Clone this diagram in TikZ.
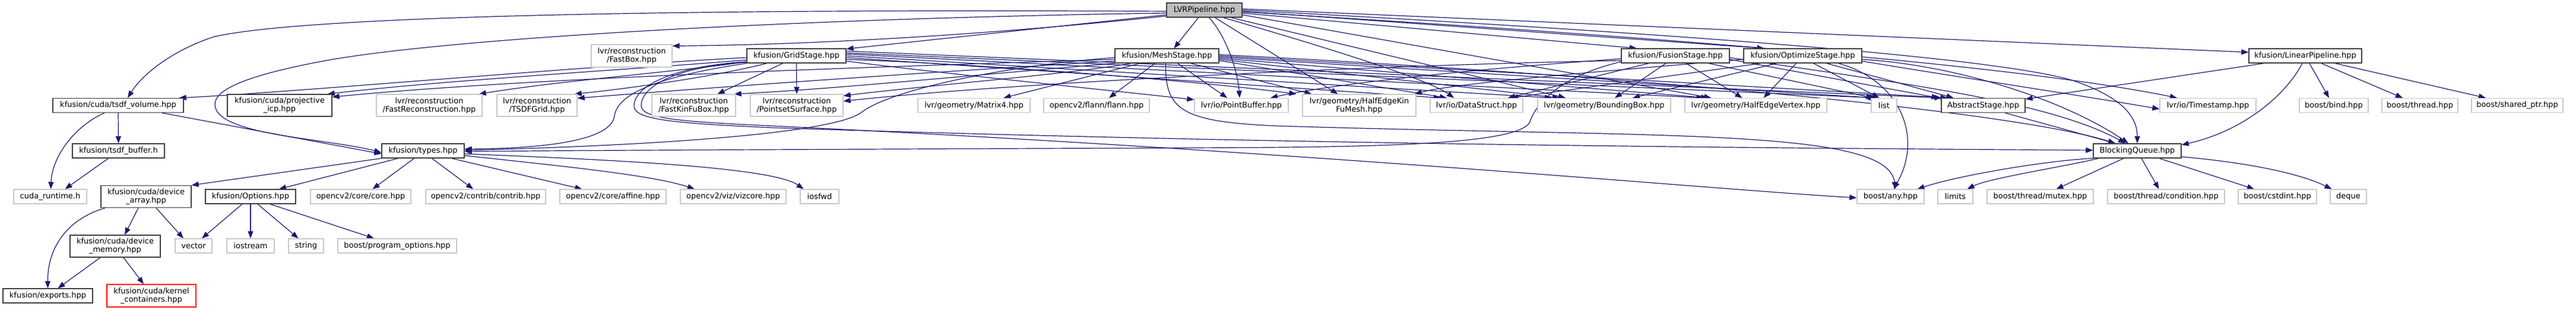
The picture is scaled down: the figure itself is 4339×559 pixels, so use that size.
\documentclass[tikz,border=0pt]{standalone}
\usepackage{fontspec}
\setmainfont{DejaVu Sans}
\usetikzlibrary{arrows.meta}
\definecolor{edgec}{HTML}{191970}
\definecolor{lightb}{HTML}{C8C8C8}
\definecolor{darkb}{HTML}{404040}
\definecolor{rootf}{HTML}{BFBFBF}
\pgfdeclarelayer{bg}
\pgfsetlayers{bg,main}
\begin{document}
\begin{tikzpicture}[x=1pt,y=-1pt,
  nd/.style={draw=darkb, line width=1.3pt, fill=white, inner sep=0pt, align=center,
    font=\fontsize{13}{14}\selectfont},
  ext/.style={nd, draw=lightb},
  trunc/.style={nd, draw=red},
  root/.style={nd, fill=rootf},
  sz/.style 2 args={minimum width=#1pt, minimum height=#2pt},
  e/.style={draw=edgec, line width=1.2pt, -{Triangle[length=12pt,width=9pt]}},
]
\useasboundingbox (0,0) rectangle (4339,559);
% row 0
\node[root, sz={127}{24}] (lvr) at (2028.5,17) {LVRPipeline.hpp};
% row 1
\node[ext, sz={136}{38}] (fastbox) at (1064,94) {lvr/reconstruction\\/FastBox.hpp};
\node[nd, sz={167}{24}] (grid) at (1341.5,94) {kfusion/GridStage.hpp};
\node[nd, sz={175}{24}] (mesh) at (1965.5,94) {kfusion/MeshStage.hpp};
\node[nd, sz={182}{24}] (fusion) at (2822,94) {kfusion/FusionStage.hpp};
\node[nd, sz={199}{24}] (opt) at (3036.5,94) {kfusion/OptimizeStage.hpp};
\node[nd, sz={190}{24}] (linp) at (3883,94) {kfusion/LinearPipeline.hpp};
% row 2
\node[nd, sz={220}{24}] (tsdf) at (199,177.5) {kfusion/cuda/tsdf\_volume.hpp};
\node[nd, sz={176}{37}] (proj) at (471,177.5) {kfusion/cuda/projective\\\_icp.hpp};
\node[ext, sz={178}{37}] (frecon) at (723,177.5) {lvr/reconstruction\\/FastReconstruction.hpp};
\node[ext, sz={135}{37}] (tgrid) at (904.5,177.5) {lvr/reconstruction\\/TSDFGrid.hpp};
\node[ext, sz={141}{37}] (fkfb) at (1168.5,177.5) {lvr/reconstruction\\/FastKinFuBox.hpp};
\node[ext, sz={156}{37}] (pss) at (1342,177.5) {lvr/reconstruction\\/PointsetSurface.hpp};
\node[ext, sz={189}{24}] (mat4) at (1640.5,177.5) {lvr/geometry/Matrix4.hpp};
\node[ext, sz={178}{24}] (flann) at (1847,177.5) {opencv2/flann/flann.hpp};
\node[ext, sz={158}{24}] (pbuf) at (2091,177.5) {lvr/io/PointBuffer.hpp};
\node[ext, sz={191}{37}] (hekfm) at (2289.5,177.5) {lvr/geometry/HalfEdgeKin\\FuMesh.hpp};
\node[ext, sz={156}{24}] (dstruct) at (2487,177.5) {lvr/io/DataStruct.hpp};
\node[ext, sz={224}{24}] (bbox) at (2702,177.5) {lvr/geometry/BoundingBox.hpp};
\node[ext, sz={239}{24}] (hev) at (2957.5,177.5) {lvr/geometry/HalfEdgeVertex.hpp};
\node[ext, sz={43}{24}] (list) at (3173.5,177.5) {list};
\node[nd, sz={141}{24}] (abst) at (3340.5,177.5) {AbstractStage.hpp};
\node[ext, sz={162}{24}] (tstamp) at (3719,177.5) {lvr/io/Timestamp.hpp};
\node[ext, sz={116}{24}] (bind) at (3931,177.5) {boost/bind.hpp};
\node[ext, sz={128}{24}] (bthread) at (4076,177.5) {boost/thread.hpp};
\node[ext, sz={154}{24}] (sptr) at (4240,177.5) {boost/shared\_ptr.hpp};
% row 3
\node[nd, sz={155}{24}] (tsdfbuf) at (199.5,254) {kfusion/tsdf\_buffer.h};
\node[nd, sz={139}{24}] (types) at (712.5,254) {kfusion/types.hpp};
\node[nd, sz={148}{24}] (bq) at (3600,254) {BlockingQueue.hpp};
% row 4
\node[ext, sz={123}{24}] (cudart) at (84.5,331) {cuda\_runtime.h};
\node[nd, sz={152}{37}] (darr) at (246,331) {kfusion/cuda/device\\\_array.hpp};
\node[nd, sz={152}{24}] (opts) at (422,331) {kfusion/Options.hpp};
\node[ext, sz={169}{24}] (core) at (607.5,331) {opencv2/core/core.hpp};
\node[ext, sz={202}{24}] (contrib) at (818,331) {opencv2/contrib/contrib.hpp};
\node[ext, sz={179}{24}] (affine) at (1032.5,331) {opencv2/core/affine.hpp};
\node[ext, sz={178}{24}] (viz) at (1235,331) {opencv2/viz/vizcore.hpp};
\node[ext, sz={65}{24}] (iosfwd) at (1380.5,331) {iosfwd};
\node[ext, sz={113}{24}] (any) at (3184.5,331) {boost/any.hpp};
\node[ext, sz={59}{24}] (limits) at (3293.5,331) {limits};
\node[ext, sz={179}{24}] (mutex) at (3436.5,331) {boost/thread/mutex.hpp};
\node[ext, sz={197}{24}] (cond) at (3648.5,331) {boost/thread/condition.hpp};
\node[ext, sz={132}{24}] (cstdint) at (3836,331) {boost/cstdint.hpp};
\node[ext, sz={61}{24}] (deque) at (3955.5,331) {deque};
% row 5
\node[nd, sz={152}{37}] (dmem) at (194,414.5) {kfusion/cuda/device\\\_memory.hpp};
\node[ext, sz={62}{24}] (vector) at (326,414) {vector};
\node[ext, sz={80}{24}] (iostream) at (422,414) {iostream};
\node[ext, sz={59}{24}] (string) at (515.5,414) {string};
\node[ext, sz={200}{24}] (progopt) at (669,414) {boost/program\_options.hpp};
% row 6
\node[nd, sz={151}{24}] (exports) at (80.5,498) {kfusion/exports.hpp};
\node[trunc, sz={150}{38}] (kcont) at (255,498) {kfusion/cuda/kernel\\\_containers.hpp};

\begin{pgfonlayer}{bg}
% ---- LVRPipeline
\draw[e] ([yshift=-2]lvr.west) .. controls (1200,15) and (520,25) .. (360,62) .. controls (290,85) and (240,125) .. ([xshift=16]tsdf.north);
\draw[e] ([yshift=-5]lvr.west) .. controls (1400,30) and (800,60) .. (560,100) .. controls (420,125) and (360,150) .. (362,177) .. controls (364,205) and (420,220) .. (500,232) .. controls (570,242) and (610,248) .. ([yshift=-3]types.west);
\draw[e] ([yshift=-10]lvr.west) .. controls (1700,55) and (1400,75) .. ([yshift=-3]fastbox.north east);
\draw[e] ([yshift=-8]lvr.west) -- ([yshift=-1]grid.north east);
\draw[e] ([xshift=-10]lvr.south) -- ([xshift=12]mesh.north);
\draw[e] ([xshift=8]lvr.south) .. controls (2065,60) and (2085,120) .. ([xshift=-3]pbuf.north);
\draw[e] ([xshift=18]lvr.south) -- ([xshift=-36]hekfm.north);
\draw[e] ([xshift=32]lvr.south) .. controls (2200,70) and (2400,130) .. ([xshift=-38]dstruct.north);
\draw[e] ([xshift=45]lvr.south) -- ([xshift=-65]bbox.north);
\draw[e] ([yshift=-8]lvr.east) -- ([xshift=-75]hev.north);
\draw[e] ([yshift=-5]lvr.east) -- ([xshift=-65]fusion.north);
\draw[e] ([yshift=-2]lvr.east) -- ([xshift=-65]opt.north);
\draw[e] ([yshift=2]lvr.east) -- ([yshift=6]linp.west);
\draw[e] (lvr.east) .. controls (2800,55) and (3350,95) .. (3490,135) .. controls (3580,165) and (3600,200) .. (bq.north);
\draw[e] ([yshift=-3]lvr.east) .. controls (2800,62) and (3400,110) .. ([xshift=-52]tstamp.north);
% ---- GridStage
\draw[e] ([yshift=-3]grid.west) .. controls (1000,110) and (500,155) .. ([xshift=-8]tsdf.north east);
\draw[e] ([yshift=-7]grid.west) .. controls (1050,118) and (750,135) .. ([xshift=-8]proj.north east);
\draw[e] ([yshift=-10]grid.west) .. controls (1150,120) and (950,135) .. ([xshift=-6]frecon.north east);
\draw[e] ([xshift=-50]grid.south) .. controls (1200,130) and (1050,150) .. ([xshift=-5]tgrid.north east);
\draw[e] ([xshift=-23]grid.south) -- ([xshift=40]fkfb.north);
\draw[e] (grid.south) -- (pss.north);
\draw[e] (grid.south west) .. controls (1100,130) and (1040,160) .. (1035,195) .. controls (1030,240) and (900,250) .. ([yshift=3]types.east);
\draw[e] ([yshift=-9]grid.east) .. controls (1600,125) and (1850,150) .. ([yshift=-3]pbuf.north west);
\draw[e] ([yshift=-6]grid.east) .. controls (1700,110) and (2050,140) .. ([xshift=-106]hekfm.north);
\draw[e] ([yshift=-3]grid.east) -- ([xshift=-60]dstruct.north);
\draw[e] (grid.east) -- ([xshift=-88]bbox.north);
\draw[e] ([yshift=3]grid.east) -- ([xshift=-88]hev.north);
\draw[e] ([yshift=5]grid.east) -- ([xshift=-12]list.north);
\draw[e] ([yshift=8]grid.east) -- ([xshift=-70]abst.north);
\draw[e] ([yshift=-10]grid.west) .. controls (1150,110) and (1070,140) .. (1068,177) .. controls (1066,200) and (1120,207) .. (1300,215) .. controls (2200,245) and (3100,250) .. ([yshift=1]bq.west);
\draw[e] ([yshift=-11]grid.west) .. controls (1140,112) and (1080,145) .. (1080,178) .. controls (1080,200) and (1150,205) .. (1300,212) .. controls (2200,255) and (2900,320) .. ([yshift=-2]any.west);
% ---- MeshStage
\draw[e] ([yshift=-6]mesh.west) .. controls (1500,112) and (900,130) .. ([yshift=-5]proj.north east);
\draw[e] ([yshift=-9]mesh.west) .. controls (1500,125) and (1100,155) .. ([yshift=-7]tgrid.north east);
\draw[e] (mesh.south west) .. controls (1600,130) and (1400,150) .. ([xshift=-3]fkfb.north east);
\draw[e] ([xshift=-60]mesh.south) .. controls (1800,125) and (1550,145) .. ([yshift=-3]pss.north east);
\draw[e] ([xshift=-45]mesh.south) -- ([xshift=50]mat4.north);
\draw[e] ([xshift=-20]mesh.south) -- ([xshift=21]flann.north);
\draw[e] ([xshift=18]mesh.south) -- ([xshift=-24]pbuf.north);
\draw[e] ([xshift=40]mesh.south) -- ([xshift=-80]hekfm.north);
\draw[e] ([yshift=-3]mesh.west) .. controls (1700,110) and (1500,150) .. (1450,190) .. controls (1400,225) and (1100,245) .. ([yshift=1]types.east);
\draw[e] ([xshift=-2]mesh.south) .. controls (1962,185) and (1990,205) .. (2150,212) .. controls (2800,232) and (3180,215) .. ([xshift=8]any.north);
\draw[e] ([yshift=-8]mesh.east) -- ([xshift=-50]dstruct.north);
\draw[e] ([yshift=-6]mesh.east) -- ([xshift=-75]bbox.north);
\draw[e] ([yshift=-4]mesh.east) -- ([xshift=-80]hev.north);
\draw[e] ([yshift=-2]mesh.east) -- ([xshift=-15]list.north);
\draw[e] (mesh.east) -- ([xshift=-60]abst.north);
\draw[e] ([yshift=2]mesh.east) .. controls (2800,130) and (3400,190) .. ([xshift=-37]bq.north);
% ---- FusionStage
\draw[e] ([yshift=-5]fusion.west) .. controls (2500,115) and (2250,140) .. ([xshift=49]pbuf.north);
\draw[e] ([yshift=-8]fusion.west) .. controls (2300,110) and (1700,140) .. ([yshift=-12]pss.north east);
\draw[e] ([yshift=-10]fusion.west) .. controls (2620,130) and (2585,180) .. (2577,205) .. controls (2560,245) and (2300,248) .. (2000,249) .. controls (1500,251) and (1000,253) .. ([yshift=-1]types.east);
\draw[e] ([xshift=-45]fusion.south) -- ([xshift=53]dstruct.north);
\draw[e] ([xshift=-16]fusion.south) -- ([xshift=18]bbox.north);
\draw[e] ([xshift=18]fusion.south) -- ([xshift=-23]hev.north);
\draw[e] ([xshift=56]fusion.south) -- ([xshift=-18]list.north);
\draw[e] ([yshift=-6]fusion.east) -- ([xshift=-75]abst.north);
\draw[e] ([yshift=-3]fusion.east) .. controls (3200,140) and (3450,170) .. ([xshift=-20]bq.north);
% ---- OptimizeStage
\draw[e] ([yshift=-6]opt.west) .. controls (2700,120) and (2450,140) .. ([xshift=-3]hekfm.north east);
\draw[e] ([xshift=-71]opt.south) -- ([xshift=58]dstruct.north);
\draw[e] ([xshift=-44]opt.south) -- ([xshift=48]bbox.north);
\draw[e] ([xshift=-11]opt.south) -- ([xshift=13]hev.north);
\draw[e] ([xshift=18]opt.south) -- ([xshift=-8]list.north);
\draw[e] ([xshift=40]opt.south) -- ([xshift=-50]abst.north);
\draw[e] ([xshift=60]opt.south) .. controls (3200,135) and (3240,230) .. ([xshift=5]any.north);
\draw[e] ([yshift=-6]opt.east) .. controls (3300,110) and (3480,170) .. ([xshift=-15]bq.north);
\draw[e] ([yshift=-9]opt.east) .. controls (3300,130) and (3500,160) .. ([yshift=-6]tstamp.west);
% ---- AbstractStage, LinearPipeline
\draw[e] ([xshift=37]abst.south) -- ([xshift=-37]bq.north);
\draw[e] ([xshift=-70]linp.south) -- ([yshift=-2]abst.north east);
\draw[e] ([xshift=-5]linp.south) .. controls (3850,160) and (3780,220) .. ([yshift=10]bq.east);
\draw[e] ([xshift=7]linp.south) -- ([xshift=-8]bind.north);
\draw[e] ([xshift=27]linp.south) -- ([xshift=-29]bthread.north);
\draw[e] ([xshift=50]linp.south) -- ([xshift=-53]sptr.north);
% ---- BlockingQueue
\draw[e] (bq.south west) .. controls (3450,270) and (3300,295) .. ([xshift=45]any.north);
\draw[e] ([xshift=-65]bq.south) .. controls (3480,280) and (3350,300) .. ([xshift=20]limits.north);
\draw[e] ([xshift=-23]bq.south) -- ([xshift=27]mutex.north);
\draw[e] ([xshift=7]bq.south) -- ([xshift=-12]cond.north);
\draw[e] ([xshift=37]bq.south) -- ([xshift=-39]cstdint.north);
\draw[e] ([yshift=-10]bq.east) .. controls (3800,275) and (3880,295) .. ([xshift=-28]deque.north);
% ---- tsdf / types cluster
\draw[e] (tsdf.south) -- (tsdfbuf.north);
\draw[e] ([xshift=-23]tsdf.south) .. controls (130,210) and (88,260) .. ([xshift=1]cudart.north);
\draw[e] ([xshift=74]tsdf.south) -- ([yshift=-5]types.west);
\draw[e] ([xshift=-17]tsdfbuf.south) -- ([xshift=25]cudart.north);
\draw[e] (types.south west) -- (darr.north east);
\draw[e] ([xshift=-42]types.south) -- ([xshift=48]opts.north);
\draw[e] ([xshift=-15]types.south) -- ([xshift=20]core.north);
\draw[e] ([xshift=15]types.south) -- ([xshift=-21]contrib.north);
\draw[e] ([xshift=48]types.south) -- ([xshift=-52]affine.north);
\draw[e] ([yshift=-8]types.east) .. controls (950,280) and (1100,295) .. ([xshift=-65]viz.north);
\draw[e] ([yshift=-5]types.east) .. controls (1000,268) and (1300,280) .. ([xshift=-27]iosfwd.north);
\draw[e] ([xshift=-13]darr.south) -- ([xshift=16]dmem.north);
\draw[e] ([xshift=-69]darr.south) .. controls (110,370) and (80,420) .. (exports.north);
\draw[e] ([xshift=17]darr.south) -- ([xshift=-17]vector.north);
\draw[e] ([xshift=-14]opts.south) -- ([xshift=14]vector.north);
\draw[e] (opts.south) -- (iostream.north);
\draw[e] ([xshift=12]opts.south) -- ([xshift=-13]string.north);
\draw[e] ([xshift=33]opts.south) -- ([xshift=-39]progopt.north);
\draw[e] ([xshift=-25]dmem.south) -- ([xshift=17]exports.north);
\draw[e] ([xshift=14]dmem.south) -- ([xshift=-13]kcont.north);
\end{pgfonlayer}
\end{tikzpicture}
\end{document}
